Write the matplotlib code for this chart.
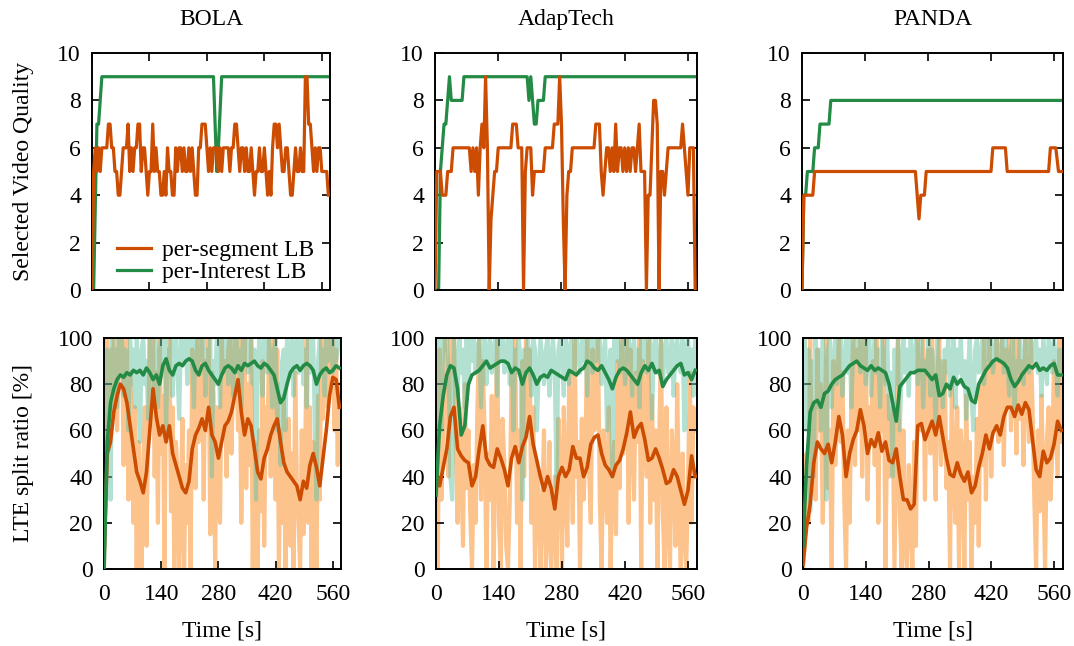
import matplotlib.pyplot as plt
import numpy as np

plt.rcParams["font.family"] = ["Liberation Serif", "DejaVu Serif"]
plt.rcParams["font.size"] = 17

SEG = 4      # segment duration [s] -> spacing of the dense series
SMOOTH = 8   # spacing of the smoothed split-ratio series [s]
T_END = 580

SCHEMES = ["BOLA", "AdapTech", "PANDA"]
X_TICKS = [0, 140, 280, 420, 560]
Q_TICKS = [0, 2, 4, 6, 8, 10]
R_TICKS = [0, 20, 40, 60, 80, 100]

# ---- selected video quality (top row) ----
bola_q_seg = [0, 5, 6, 5, 6, 5, 6, 6, 6, 6,
              7, 7, 6, 6, 5, 5, 4, 4, 5, 6,
              6, 6, 7, 5, 6, 5, 6, 6, 7, 7,
              5, 6, 6, 5, 4, 5, 5, 7, 5, 6,
              5, 5, 4, 4, 5, 4, 6, 5, 5, 4,
              4, 6, 5, 6, 6, 5, 6, 5, 5, 6,
              5, 6, 5, 4, 4, 6, 6, 7, 7, 7,
              6, 5, 6, 5, 6, 6, 6, 5, 6, 5,
              6, 6, 6, 6, 5, 6, 6, 7, 7, 6,
              5, 6, 6, 5, 6, 5, 5, 6, 5, 4,
              5, 5, 6, 5, 5, 6, 5, 4, 5, 4,
              6, 7, 7, 6, 7, 6, 5, 5, 6, 6,
              5, 4, 4, 5, 6, 5, 5, 6, 5, 5,
              9, 9, 7, 7, 6, 5, 6, 5, 6, 6,
              5, 5, 5, 5, 4]
bola_q_int_t = [0, 4, 12, 16, 24, 296, 304, 308, 316, 580]
bola_q_int = [0, 0, 7, 7, 9, 9, 5, 6, 9, 9]

adap_q_seg = [0, 5, 5, 5, 4, 4, 4, 5, 5, 5,
              6, 6, 6, 6, 6, 6, 6, 6, 6, 6,
              5, 6, 5, 6, 4, 6, 7, 6, 9, 6,
              0, 3, 4, 5, 5, 6, 6, 6, 6, 6,
              6, 6, 6, 7, 7, 7, 6, 6, 6, 0,
              5, 6, 6, 6, 4, 5, 5, 5, 5, 5,
              5, 6, 6, 6, 6, 6, 7, 7, 7, 9,
              7, 3, 0, 4, 5, 5, 6, 6, 6, 6,
              6, 6, 6, 6, 6, 6, 6, 6, 6, 7,
              7, 7, 5, 4, 5, 6, 6, 5, 6, 5,
              7, 5, 6, 6, 5, 6, 5, 6, 5, 6,
              6, 5, 6, 7, 5, 5, 5, 0, 4, 4,
              6, 8, 8, 7, 0, 5, 5, 4, 5, 6,
              6, 6, 6, 6, 6, 6, 6, 7, 6, 5,
              4, 6, 6, 6, 0]
adap_q_int_t = [0, 8, 12, 16, 20, 24, 28, 32, 36, 60, 64, 204, 208, 212,
                220, 224, 228, 240, 244, 580]
adap_q_int = [0, 0, 5, 6, 7, 7, 8, 9, 8, 8, 9, 9, 8, 9, 7, 7, 8, 8, 9, 9]

panda_q_seg_t = [0, 4, 24, 28, 252, 260, 264, 272, 276, 420, 424, 452, 456,
                 548, 552, 564, 570, 580]
panda_q_seg = [0, 4, 4, 5, 5, 3, 4, 4, 5, 5, 6, 6, 5, 5, 6, 6, 5, 5]
panda_q_int_t = [0, 4, 8, 12, 24, 28, 36, 40, 60, 64, 580]
panda_q_int = [0, 4, 4, 5, 5, 6, 6, 7, 7, 8, 8]

# ---- LTE split ratio (bottom row), raw per segment ----
bola_r_seg = [0, 40, 100, 55, 95, 70, 100, 85, 60, 100,
              90, 100, 45, 95, 100, 30, 85, 65, 20, 70,
              0, 55, 30, 0, 45, 70, 10, 60, 100, 95,
              100, 40, 85, 20, 100, 50, 75, 0, 90, 60,
              100, 25, 70, 0, 55, 40, 0, 30, 65, 0,
              45, 20, 60, 0, 95, 70, 35, 100, 55, 80,
              100, 30, 90, 60, 100, 15, 85, 75, 0, 70,
              45, 20, 100, 60, 90, 40, 95, 100, 50, 85,
              100, 90, 60, 100, 20, 75, 100, 35, 80, 45,
              100, 0, 55, 30, 0, 60, 25, 90, 10, 70,
              55, 100, 40, 85, 100, 30, 95, 0, 60, 20,
              75, 0, 40, 65, 10, 50, 0, 85, 35, 20,
              0, 60, 15, 45, 100, 20, 70, 0, 55, 40,
              0, 75, 30, 100, 65, 90, 100, 70, 100, 85,
              100, 60, 95, 45, 80]
bola_r_int = [0, 60, 95, 80, 30, 100, 85, 95, 70, 100,
              85, 100, 75, 95, 90, 60, 100, 80, 95, 70,
              100, 85, 55, 95, 100, 80, 90, 65, 100, 85,
              75, 100, 90, 70, 95, 100, 85, 100, 60, 95,
              90, 100, 75, 95, 100, 85, 65, 100, 90, 95,
              100, 80, 95, 100, 90, 70, 100, 85, 95, 100,
              90, 100, 75, 95, 85, 100, 40, 90, 80, 100,
              95, 70, 100, 85, 90, 100, 80, 95, 100, 75,
              90, 100, 85, 95, 70, 100, 90, 100, 85, 95,
              100, 80, 95, 30, 85, 100, 90, 75, 100, 95,
              85, 100, 90, 70, 95, 100, 60, 80, 45, 90,
              95, 60, 100, 85, 90, 100, 75, 95, 100, 85,
              90, 100, 80, 95, 70, 100, 85, 95, 100, 60,
              30, 90, 100, 85, 95, 75, 100, 90, 95, 100,
              85, 100, 90, 95, 100]

adap_r_seg = [40, 0, 95, 30, 60, 100, 75, 40, 100, 85,
              100, 55, 20, 70, 45, 10, 80, 35, 60, 25,
              0, 45, 20, 70, 100, 30, 90, 60, 0, 50,
              30, 75, 0, 55, 100, 20, 0, 65, 45, 10,
              0, 30, 85, 50, 100, 20, 60, 0, 90, 40,
              100, 65, 95, 20, 70, 0, 45, 30, 0, 25,
              60, 0, 15, 55, 0, 20, 40, 0, 65, 45,
              0, 70, 35, 10, 85, 60, 20, 100, 40, 55,
              0, 65, 30, 50, 100, 45, 20, 95, 60, 75,
              100, 30, 0, 60, 45, 20, 70, 0, 40, 55,
              15, 90, 35, 100, 50, 75, 100, 20, 95, 60,
              30, 85, 55, 100, 0, 90, 65, 40, 100, 20,
              75, 30, 60, 0, 55, 100, 25, 0, 70, 20,
              0, 60, 45, 10, 80, 25, 0, 50, 15, 0,
              35, 85, 20, 70, 60]
adap_r_int = [30, 95, 100, 60, 100, 95, 100, 85, 40, 30,
              100, 90, 75, 100, 85, 95, 70, 100, 80, 100,
              90, 100, 85, 95, 100, 70, 90, 100, 80, 95,
              100, 85, 95, 100, 75, 100, 90, 100, 85, 95,
              100, 80, 100, 60, 95, 85, 100, 90, 30, 95,
              85, 100, 90, 75, 100, 95, 60, 85, 100, 90,
              80, 95, 100, 75, 90, 100, 85, 35, 95, 100,
              90, 75, 100, 95, 80, 100, 90, 85, 100, 95,
              85, 100, 90, 100, 75, 95, 100, 85, 100, 90,
              95, 100, 80, 90, 100, 60, 85, 95, 40, 100,
              90, 100, 85, 95, 100, 80, 90, 100, 95, 75,
              100, 85, 95, 70, 100, 90, 100, 85, 95, 100,
              65, 95, 100, 85, 90, 100, 80, 95, 100, 85,
              90, 100, 75, 95, 100, 90, 85, 100, 60, 95,
              100, 85, 95, 75, 100]

panda_r_seg = [0, 10, 50, 20, 100, 40, 70, 30, 95, 60,
               80, 20, 55, 100, 35, 60, 0, 90, 45, 75,
               100, 55, 85, 30, 0, 60, 20, 75, 100, 45,
               95, 60, 100, 40, 80, 100, 30, 70, 55, 90,
               45, 100, 20, 85, 60, 100, 0, 75, 40, 55,
               70, 0, 50, 100, 25, 0, 60, 10, 0, 45,
               20, 0, 55, 10, 100, 75, 60, 100, 30, 85,
               95, 50, 100, 60, 30, 85, 100, 45, 70, 90,
               35, 55, 0, 80, 40, 20, 70, 0, 60, 45,
               0, 75, 30, 55, 0, 40, 20, 65, 10, 80,
               45, 100, 30, 75, 100, 40, 90, 60, 100, 55,
               80, 100, 45, 95, 70, 100, 60, 85, 100, 50,
               100, 65, 90, 45, 100, 80, 55, 100, 70, 30,
               0, 60, 25, 75, 40, 0, 55, 70, 30, 50,
               90, 65, 40, 100, 55]
panda_r_int = [80, 100, 60, 95, 25, 90, 40, 100, 70, 95,
               60, 100, 85, 30, 95, 100, 70, 90, 100, 80,
               95, 100, 75, 90, 100, 85, 100, 70, 95, 100,
               90, 100, 85, 95, 100, 80, 95, 100, 75, 90,
               100, 85, 95, 70, 100, 90, 80, 100, 65, 85,
               40, 95, 80, 100, 60, 90, 100, 85, 95, 75,
               100, 90, 85, 100, 80, 95, 100, 70, 90, 85,
               100, 75, 95, 85, 60, 100, 80, 90, 70, 95,
               85, 100, 75, 90, 100, 70, 95, 85, 100, 80,
               90, 65, 85, 100, 75, 60, 95, 100, 85, 90,
               100, 80, 95, 100, 90, 100, 85, 95, 100, 90,
               95, 100, 85, 100, 90, 75, 95, 100, 70, 90,
               85, 100, 90, 80, 100, 95, 85, 100, 90, 95,
               100, 85, 95, 75, 100, 90, 80, 100, 95, 85,
               100, 90, 75, 95, 85]

# ---- LTE split ratio, smoothed (every 8 s) ----
bola_s_seg = [5, 50, 55, 68, 75, 80, 78, 72, 62, 52,
              42, 38, 33, 42, 60, 78, 66, 58, 62, 55,
              62, 50, 45, 40, 35, 33, 38, 52, 58, 61,
              65, 60, 70, 58, 55, 48, 55, 62, 64, 68,
              75, 82, 68, 58, 65, 62, 52, 42, 39, 48,
              52, 58, 62, 65, 55, 46, 42, 40, 38, 36,
              30, 38, 35, 45, 50, 44, 36, 48, 60, 75,
              83, 82, 70]
bola_s_int = [0, 55, 72, 78, 82, 84, 83, 85, 84, 86,
              85, 86, 84, 87, 85, 82, 84, 80, 88, 91,
              86, 84, 88, 89, 88, 90, 91, 90, 86, 84,
              88, 89, 86, 84, 82, 80, 84, 87, 88, 87,
              85, 88, 86, 89, 88, 89, 90, 88, 87, 89,
              88, 86, 84, 78, 72, 74, 80, 85, 87, 88,
              86, 88, 89, 88, 86, 80, 84, 86, 87, 85,
              86, 88, 87]

adap_s_seg = [43, 36, 44, 52, 66, 70, 52, 49, 47, 46,
              36, 40, 52, 62, 48, 45, 44, 52, 48, 43,
              36, 48, 53, 46, 53, 57, 66, 54, 47, 40,
              34, 40, 35, 26, 40, 44, 40, 43, 53, 48,
              48, 40, 44, 54, 57, 58, 50, 45, 43, 40,
              45, 47, 52, 59, 68, 57, 61, 63, 56, 47,
              48, 52, 48, 43, 37, 38, 43, 40, 34, 28,
              34, 49, 40]
adap_s_int = [32, 62, 75, 84, 88, 87, 78, 58, 62, 80,
              84, 85, 86, 88, 90, 87, 88, 89, 90, 90,
              89, 85, 87, 86, 80, 85, 87, 84, 80, 83,
              84, 83, 86, 85, 84, 83, 82, 86, 85, 84,
              86, 87, 90, 89, 87, 86, 88, 85, 82, 78,
              83, 86, 87, 86, 84, 82, 80, 85, 88, 86,
              89, 85, 86, 79, 82, 84, 86, 88, 89, 84,
              85, 82, 86]

panda_s_seg = [2, 18, 28, 46, 55, 52, 50, 54, 46, 55,
               66, 58, 40, 50, 56, 60, 69, 62, 50, 56,
               53, 59, 51, 55, 47, 46, 52, 40, 30, 30,
               26, 28, 62, 63, 56, 60, 64, 58, 66, 57,
               48, 41, 40, 46, 41, 38, 42, 33, 36, 44,
               50, 58, 52, 59, 62, 58, 66, 70, 70, 66,
               71, 67, 72, 69, 56, 43, 40, 51, 46, 48,
               54, 64, 60]
panda_s_int = [10, 45, 68, 72, 73, 70, 76, 77, 80, 82,
               83, 84, 86, 88, 89, 90, 88, 87, 86, 88,
               86, 87, 86, 85, 80, 72, 64, 79, 81, 83,
               85, 85, 86, 86, 86, 84, 82, 84, 75, 76,
               80, 78, 83, 80, 82, 79, 78, 73, 72, 80,
               83, 86, 88, 90, 91, 90, 89, 87, 82, 79,
               81, 84, 86, 88, 87, 89, 86, 87, 86, 88,
               89, 84, 84]

quality = [
    ((None, bola_q_seg), (bola_q_int_t, bola_q_int)),
    ((None, adap_q_seg), (adap_q_int_t, adap_q_int)),
    ((panda_q_seg_t, panda_q_seg), (panda_q_int_t, panda_q_int)),
]
ratio_raw = [(bola_r_seg, bola_r_int), (adap_r_seg, adap_r_int),
             (panda_r_seg, panda_r_int)]
ratio_smooth = [(bola_s_seg, bola_s_int), (adap_s_seg, adap_s_int),
                (panda_s_seg, panda_s_int)]

C_SEG = "#cc4c02"
C_INT = "#238b45"
C_SEG_RAW = "#fdc38d"
C_INT_RAW = "#66c2a4"

W, H = 1074, 646
# axes boxes in pixels: left, top, right, bottom
TOP_BOX = [(92, 53, 330, 290), (435, 53, 697, 290), (802, 53, 1063, 290)]
BOT_BOX = [(104, 338, 341, 569), (436, 338, 697, 569), (803, 338, 1063, 569)]


def add_axes(fig, box):
    l, t, r, b = box
    return fig.add_axes([l / W, 1 - b / H, (r - l) / W, (b - t) / H])


def style(ax, yticks, show_x):
    ax.set_xlim(0, T_END)
    ax.set_xticks(X_TICKS)
    ax.set_yticks(yticks)
    ax.set_ylim(yticks[0], yticks[-1])
    ax.tick_params(direction="in", top=True, right=True, length=6,
                   width=1.2, pad=8, labelsize=17)
    ax.tick_params(axis="x", pad=11)
    if not show_x:
        ax.set_xticklabels([])
    for s in ax.spines.values():
        s.set_linewidth(1.4)


def series(tv):
    t, v = tv
    if t is None:
        t = np.arange(len(v)) * SEG
    return t, v


fig = plt.figure(figsize=(W / 100, H / 100), dpi=100)

for i, name in enumerate(SCHEMES):
    ax = add_axes(fig, TOP_BOX[i])
    seg, inte = quality[i]
    ax.plot(*series(seg), color=C_SEG, lw=2.3, label="per-segment LB",
            zorder=3)
    ax.plot(*series(inte), color=C_INT, lw=2.3, label="per-Interest LB",
            zorder=2)
    style(ax, Q_TICKS, False)
    ax.set_title(name, fontsize=17, pad=20)
    if i == 0:
        ax.legend(loc="lower left", bbox_to_anchor=(0.105, 0.03),
                  frameon=False, fontsize=17, handlelength=1.45,
                  handletextpad=0.45, labelspacing=0.0, borderpad=0,
                  borderaxespad=0)

    ax = add_axes(fig, BOT_BOX[i])
    raw_seg, raw_int = ratio_raw[i]
    sm_seg, sm_int = ratio_smooth[i]
    t_raw = np.arange(len(raw_seg)) * SEG
    t_sm = np.arange(len(sm_seg)) * SMOOTH
    ax.plot(t_raw, raw_seg, color=C_SEG_RAW, lw=3, zorder=1)
    ax.plot(t_raw, raw_int, color=C_INT_RAW, lw=3, alpha=0.5, zorder=2)
    ax.plot(t_sm, sm_seg, color=C_SEG, lw=2.6, zorder=3)
    ax.plot(t_sm, sm_int, color=C_INT, lw=2.6, zorder=4)
    style(ax, R_TICKS, True)
    l, t, r, b = BOT_BOX[i]
    fig.text((l + r) / 2 / W, 1 - 637 / H, "Time [s]", ha="center",
             va="baseline", fontsize=17)

fig.text(23 / W, 1 - 171 / H, "Selected Video Quality", rotation=90,
         ha="center", va="center", fontsize=17)
fig.text(23 / W, 1 - 453 / H, "LTE split ratio [%]", rotation=90,
         ha="center", va="center", fontsize=17)

fig.savefig("out.png", dpi=100)
